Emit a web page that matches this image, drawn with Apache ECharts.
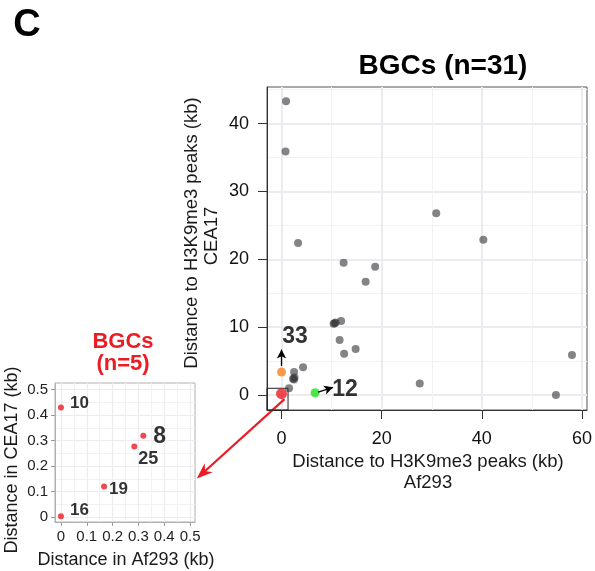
<!DOCTYPE html>
<html><head><meta charset="utf-8">
<script src="https://cdn.jsdelivr.net/npm/echarts@6/dist/echarts.min.js"></script>
<style>html,body{margin:0;padding:0;background:#fff}#c{width:595px;height:571px}</style>
</head><body><div id="c"></div>
<script>
// ---- data ----
const grayX = [0.9, 0.8, 3.3, 30.9, 40.3, 12.4, 18.7, 16.8, 10.4, 10.8, 11.9, 11.6, 14.8, 12.5, 58.0, 27.6, 54.8, 4.3, 2.5, 2.3, 2.6, 2.5, 1.5, 10.6];
const grayY = [43.3, 35.9, 22.4, 26.8, 22.9, 19.5, 18.9, 16.7, 10.5, 10.7, 10.9, 8.1, 6.8, 6.1, 5.9, 1.7, 0.0, 4.1, 3.4, 2.4, 2.6, 2.3, 1.0, 10.6];
const orangePt = [0, 3.4];
const greenPt = [6.7, 0.35];
const redMainPt = [0, 0.2];
const annotX = [2.7, 12.7];
const annotY = [8.6, 0.85];
const annotText = ['33', '12'];
const arrowFrom = [[0, 4.3], [7.3, 0.42]];
const arrowTo = [[0, 6.7], [10.3, 1.15]];
const zoomBox = [[-2.9, -2.2], [1.3, 1.0]];
const insetX = [0, 0.319, 0.284, 0.167, 0];
const insetY = [0.43, 0.319, 0.277, 0.12, 0.003];
const insetLabels = ['10', '8', '25', '19', '16'];
const mainXTicks = [0, 20, 40, 60];
const mainYTicks = [0, 10, 20, 30, 40];
const insetTicks = [0, 0.1, 0.2, 0.3, 0.4, 0.5];
const mainXRange = [-2.9, 61];
const mainYRange = [-2.2, 45.4];
const insetXRange = [-0.023, 0.519];
const insetYRange = [-0.0196, 0.526];
const linkFrom = [0.6, -0.6];   // main coords
const linkTo = [0.526, 0.151];  // inset coords

// ---- styles ----
const FONT = '"Liberation Sans", Arial, Helvetica, sans-serif';
const insetLabelStyle = [
  {fontSize: 17, offset: [6, -4]},
  {fontSize: 23, offset: [7, 1]},
  {fontSize: 18, offset: [1, 13]},
  {fontSize: 17, offset: [2, 3]},
  {fontSize: 17, offset: [6, -6]}
];
const RED = '#ec1c24';

const chart = echarts.init(document.getElementById('c'), null, {renderer: 'canvas'});

function mkAxis(grid, range, ticks, isMain, splitNumber, isY) {
  return {
    gridIndex: grid, type: 'value', min: range[0], max: range[1], splitNumber: splitNumber,
    axisLine: {show: true, onZero: false, lineStyle: {color: isMain ? '#333' : '#b0b0b0', width: 1}},
    axisTick: {show: true, customValues: ticks, length: isMain ? 9 : 4, lineStyle: {color: isMain ? '#333' : '#999'}},
    axisLabel: {customValues: ticks, fontFamily: FONT, fontSize: isMain ? 18 : 15, color: isMain ? '#111' : '#222',
      margin: isMain ? (isY ? 18 : 20) : (isY ? 7 : 7),
      formatter: v => (Math.abs(v) < 1e-9 ? '0' : (isMain ? String(v) : v.toFixed(1)))},
    splitLine: {show: true, lineStyle: {color: '#ececf0', width: isMain ? 2 : 1.2}},
    minorTick: {show: false, splitNumber: 2},
    minorSplitLine: {show: true, lineStyle: {color: '#f2f2f5', width: 1}}
  };
}

const option = {
  animation: false,
  backgroundColor: '#fff',
  grid: [
    {left: 267, top: 87, width: 323, height: 323, show: true, borderColor: '#555', borderWidth: 1, backgroundColor: 'transparent'},
    {left: 55, top: 383, width: 140, height: 139, show: true, borderColor: '#b0b0b0', borderWidth: 1, backgroundColor: 'transparent'}
  ],
  xAxis: [
    mkAxis(0, mainXRange, mainXTicks, true, 3, false),
    mkAxis(1, insetXRange, insetTicks, false, 5, false)
  ],
  yAxis: [
    mkAxis(0, mainYRange, mainYTicks, true, 5, true),
    mkAxis(1, insetYRange, insetTicks, false, 5, true)
  ],
  series: [
    {
      type: 'scatter', xAxisIndex: 0, yAxisIndex: 0, symbolSize: 8,
      itemStyle: {color: 'rgba(50,50,54,0.75)'},
      data: grayX.map((x, i) => [x, grayY[i]]),
      markArea: {silent: true, itemStyle: {color: 'rgba(0,0,0,0)', borderColor: '#222', borderWidth: 1},
        data: [[{coord: zoomBox[0]}, {coord: zoomBox[1]}]]},
      markLine: {silent: true, symbol: ['none', 'arrow'], symbolSize: [7, 9], label: {show: false},
        lineStyle: {color: '#000', width: 1.3, type: 'solid'},
        data: arrowFrom.map((f, i) => [{coord: f}, {coord: arrowTo[i]}])}
    },
    {type: 'scatter', xAxisIndex: 0, yAxisIndex: 0, symbolSize: 9, itemStyle: {color: '#f5821f'}, data: [orangePt]},
    {type: 'scatter', xAxisIndex: 0, yAxisIndex: 0, symbolSize: 9, itemStyle: {color: '#22e01e'}, data: [greenPt]},
    {type: 'scatter', xAxisIndex: 0, yAxisIndex: 0, symbolSize: 11, itemStyle: {color: RED}, data: [redMainPt]},
    {
      type: 'scatter', xAxisIndex: 0, yAxisIndex: 0, symbolSize: 1, itemStyle: {color: 'rgba(0,0,0,0)'},
      data: annotX.map((x, i) => [x, annotY[i], annotText[i]]),
      label: {show: true, position: 'inside', formatter: p => p.value[2], fontFamily: FONT, fontWeight: 'bold', fontSize: 23,
        color: '#000', textBorderWidth: 0}
    },
    {
      type: 'scatter', xAxisIndex: 1, yAxisIndex: 1, symbolSize: 6, itemStyle: {color: RED},
      data: insetX.map((x, i) => ({
        value: [x, insetY[i]],
        label: {show: true, position: 'right', distance: 0, formatter: insetLabels[i], fontFamily: FONT,
          fontWeight: 'bold', color: '#000', fontSize: insetLabelStyle[i].fontSize, offset: insetLabelStyle[i].offset}
      }))
    }
  ]
};
chart.setOption(option);

const p0 = chart.convertToPixel({xAxisIndex: 0, yAxisIndex: 0}, linkFrom);
const p1 = chart.convertToPixel({xAxisIndex: 1, yAxisIndex: 1}, linkTo);
const ang = Math.atan2(p1[1] - p0[1], p1[0] - p0[0]);
const L = 16, W = 6;
const base = [p1[0] - L * Math.cos(ang), p1[1] - L * Math.sin(ang)];
const head = [p1,
  [base[0] + W * Math.sin(ang), base[1] - W * Math.cos(ang)],
  [p1[0] - 0.7 * L * Math.cos(ang), p1[1] - 0.7 * L * Math.sin(ang)],
  [base[0] - W * Math.sin(ang), base[1] + W * Math.cos(ang)]];

const txt = (x, y, text, size, opts) => Object.assign({
  type: 'text', x: x, y: y,
  style: {text: text, font: (opts && opts.bold ? 'bold ' : '') + size + 'px ' + FONT,
    fill: (opts && opts.fill) || '#1a1a1a', textAlign: 'center', textVerticalAlign: 'middle'}
}, opts && opts.rot ? {rotation: Math.PI / 2} : {});

chart.setOption({
  graphic: [
    {type: 'line', shape: {x1: p0[0], y1: p0[1], x2: base[0] + 0.3 * L * Math.cos(ang), y2: base[1] + 0.3 * L * Math.sin(ang)},
      style: {stroke: RED, lineWidth: 2.2}},
    {type: 'polygon', shape: {points: head}, style: {fill: RED}},
    txt(27, 26, 'C', 38, {bold: true, fill: '#000'}),
    txt(443, 66, 'BGCs (n=31)', 28, {bold: true, fill: '#000'}),
    txt(123, 342, 'BGCs', 22, {bold: true, fill: RED}),
    txt(123, 364, '(n=5)', 22, {bold: true, fill: RED}),
    txt(192, 233, 'Distance to H3K9me3 peaks (kb)', 18.5, {rot: true}),
    txt(212, 236, 'CEA17', 18.5, {rot: true}),
    txt(428, 462, 'Distance to H3K9me3 peaks (kb)', 18.5),
    txt(428, 483, 'Af293', 18.5),
    txt(12, 460, 'Distance in CEA17 (kb)', 18, {rot: true}),
    txt(126, 560, 'Distance in Af293 (kb)', 18)
  ]
});
</script></body></html>
